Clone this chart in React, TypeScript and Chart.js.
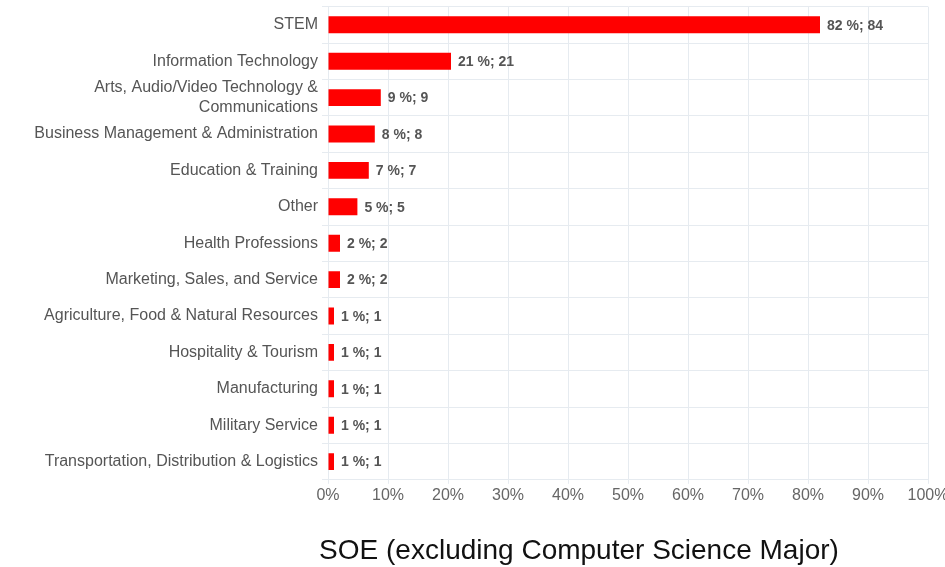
import React, { useEffect, useRef } from "react";
import { Chart, registerables } from "chart.js";

Chart.register(...registerables);

const categories: (string | string[])[] = [
  "STEM",
  "Information Technology",
  ["Arts, Audio/Video Technology &", "Communications"],
  "Business Management & Administration",
  "Education & Training",
  "Other",
  "Health Professions",
  "Marketing, Sales, and Service",
  "Agriculture, Food & Natural Resources",
  "Hospitality & Tourism",
  "Manufacturing",
  "Military Service",
  "Transportation, Distribution & Logistics",
];

// bar lengths (share, %)
const shares = [82.0, 20.5, 8.8, 7.8, 6.8, 4.9, 2.0, 2.0, 1.0, 1.0, 1.0, 1.0, 1.0];
// printed labels
const pctLabels = [82, 21, 9, 8, 7, 5, 2, 2, 1, 1, 1, 1, 1];
const counts = [84, 21, 9, 8, 7, 5, 2, 2, 1, 1, 1, 1, 1];

const xTicks = [0, 10, 20, 30, 40, 50, 60, 70, 80, 90, 100];
const titleText = "SOE (excluding Computer Science Major)";

const FONT = "Arial, 'Liberation Sans', Helvetica, sans-serif";
const GRID = "#e6ebf0";

const valueLabels = {
  id: "valueLabels",
  afterDatasetsDraw(chart: any) {
    const ctx = chart.ctx;
    const meta = chart.getDatasetMeta(0);
    ctx.save();
    ctx.font = `bold 14px ${FONT}`;
    ctx.fillStyle = "#555555";
    ctx.textAlign = "left";
    ctx.textBaseline = "middle";
    meta.data.forEach((bar: any, i: number) => {
      ctx.fillText(`${pctLabels[i]} %; ${counts[i]}`, bar.x + 7, bar.y + 1);
    });
    ctx.restore();
  },
};

const bottomTitle = {
  id: "bottomTitle",
  afterDraw(chart: any) {
    const ctx = chart.ctx;
    ctx.save();
    ctx.font = `28px ${FONT}`;
    ctx.fillStyle = "#111111";
    ctx.textAlign = "center";
    ctx.textBaseline = "alphabetic";
    ctx.fillText(titleText, 579, chart.height - 8);
    ctx.restore();
  },
};

export default function App() {
  const ref = useRef<HTMLCanvasElement | null>(null);

  useEffect(() => {
    if (!ref.current) return;
    const chart = new Chart(ref.current, {
      type: "bar",
      data: {
        labels: categories,
        datasets: [
          {
            data: shares,
            backgroundColor: "#ff0000",
            borderWidth: 0,
            categoryPercentage: 0.8,
            barPercentage: 0.58,
          },
        ],
      },
      options: {
        indexAxis: "y",
        animation: false,
        responsive: true,
        maintainAspectRatio: false,
        layout: { padding: { top: 6, right: 32, bottom: 60, left: 0 } },
        plugins: {
          legend: { display: false },
          tooltip: { enabled: false },
          title: { display: false },
        },
        scales: {
          x: {
            min: 0,
            max: 100,
            afterBuildTicks: (scale: any) => {
              scale.ticks = xTicks.map((v) => ({ value: v }));
            },
            ticks: {
              callback: (v: any) => `${v}%`,
              font: { family: FONT, size: 16 },
              color: "#666666",
              padding: 2,
              maxRotation: 0,
            },
            grid: { color: GRID, tickLength: 4 },
            border: { color: GRID },
          },
          y: {
            afterFit: (scale: any) => {
              scale.width = 328;
            },
            ticks: {
              font: { family: FONT, size: 16 },
              color: "#555555",
              padding: 4,
              autoSkip: false,
            },
            grid: { color: GRID, tickLength: 6 },
            border: { color: GRID },
          },
        },
      },
      plugins: [valueLabels, bottomTitle],
    });
    return () => chart.destroy();
  }, []);

  return (
    <div
      style={{
        position: "fixed",
        left: 0,
        top: 0,
        width: 945,
        height: 567,
        overflow: "hidden",
        background: "#ffffff",
      }}
    >
      <div style={{ position: "absolute", left: 0, top: -7, width: 960, height: 574 }}>
        <canvas ref={ref} />
      </div>
    </div>
  );
}
